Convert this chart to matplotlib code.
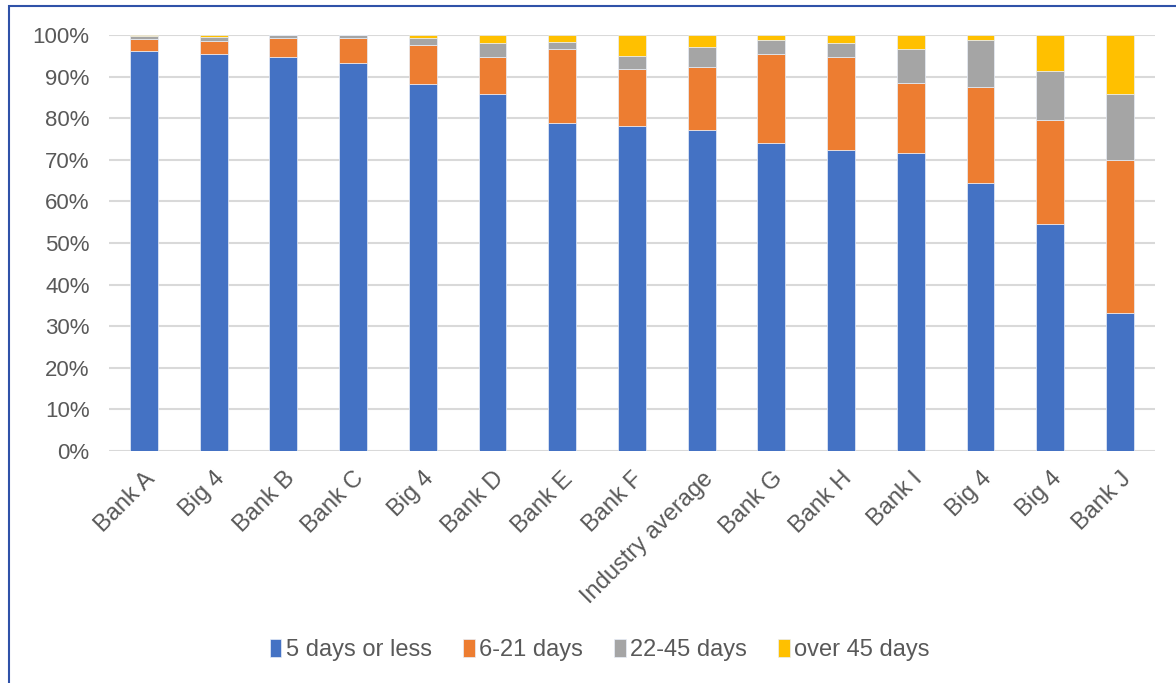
import matplotlib.pyplot as plt
from matplotlib.patches import Rectangle
import numpy as np

plt.rcParams['font.family'] = ['Liberation Sans', 'DejaVu Sans']

banks = ['Bank A', 'Big 4', 'Bank B', 'Bank C', 'Big 4', 'Bank D', 'Bank E', 'Bank F',
         'Industry average', 'Bank G', 'Bank H', 'Bank I', 'Big 4', 'Big 4', 'Bank J']
# shares in %
days_5_or_less = [96.2, 95.5, 94.7, 93.3, 88.1, 85.9, 78.9, 78.0, 77.2, 74.0, 72.4, 71.6, 64.3, 54.6, 33.2]
days_6_21 = [2.8, 3.1, 4.6, 5.9, 9.6, 8.9, 17.8, 13.9, 15.2, 21.4, 22.4, 16.9, 23.1, 25.0, 36.8]
days_22_45 = [0.8, 0.9, 0.6, 0.8, 1.6, 3.2, 1.6, 3.1, 4.8, 3.4, 3.3, 8.2, 11.4, 11.8, 15.8]
days_over_45 = [0.2, 0.5, 0.1, 0.0, 0.7, 2.0, 1.7, 5.0, 2.8, 1.2, 1.9, 3.3, 1.2, 8.6, 14.2]

series = [('5 days or less', days_5_or_less, '#4472C4'),
          ('6-21 days', days_6_21, '#ED7D31'),
          ('22-45 days', days_22_45, '#A5A5A5'),
          ('over 45 days', days_over_45, '#FFC000')]

txt = '#595959'
fig = plt.figure(figsize=(11.76, 6.83), dpi=100)
ax = fig.add_axes([0.0927, 0.3397, 0.8893, 0.6091])

x = np.arange(len(banks))
bottom = np.zeros(len(banks))
for name, vals, col in series:
    vals = np.array(vals)
    ax.bar(x, vals, 0.4, bottom=bottom, color=col, edgecolor='#E8EEF8', linewidth=0.5,
           label=name, zorder=3)
    bottom += vals

ax.set_xlim(-0.5, len(banks) - 0.5)
ax.set_ylim(0, 100)
ax.set_yticks(range(0, 101, 10))
ax.set_yticklabels(['%d%%' % v for v in range(0, 101, 10)])
ax.yaxis.grid(True, color='#D9D9D9', linewidth=1.5, zorder=0)
for s in ax.spines.values():
    s.set_visible(False)
ax.set_xticks(x)
ax.set_xticklabels(banks, rotation=45, ha='right', rotation_mode='anchor')
ax.tick_params(axis='y', length=0, pad=14, labelsize=16, labelcolor=txt)
ax.tick_params(axis='x', length=0, pad=12, labelsize=17, labelcolor=txt)

leg = fig.legend(loc='center', bbox_to_anchor=(0.51, 0.048), ncol=4, frameon=False,
                 fontsize=17, handlelength=0.5, handleheight=0.75, handletextpad=0.2,
                 columnspacing=1.3)
for t in leg.get_texts():
    t.set_color(txt)

# outer border of the chart area (right and bottom edges fall outside the image)
fig.patches.append(Rectangle((9 / 1176, -0.05), 1.05, 1 - 6 / 683 + 0.05,
                             transform=fig.transFigure, fill=False,
                             edgecolor='#2F52A8', linewidth=1.5))

fig.savefig('out.png', dpi=100)
